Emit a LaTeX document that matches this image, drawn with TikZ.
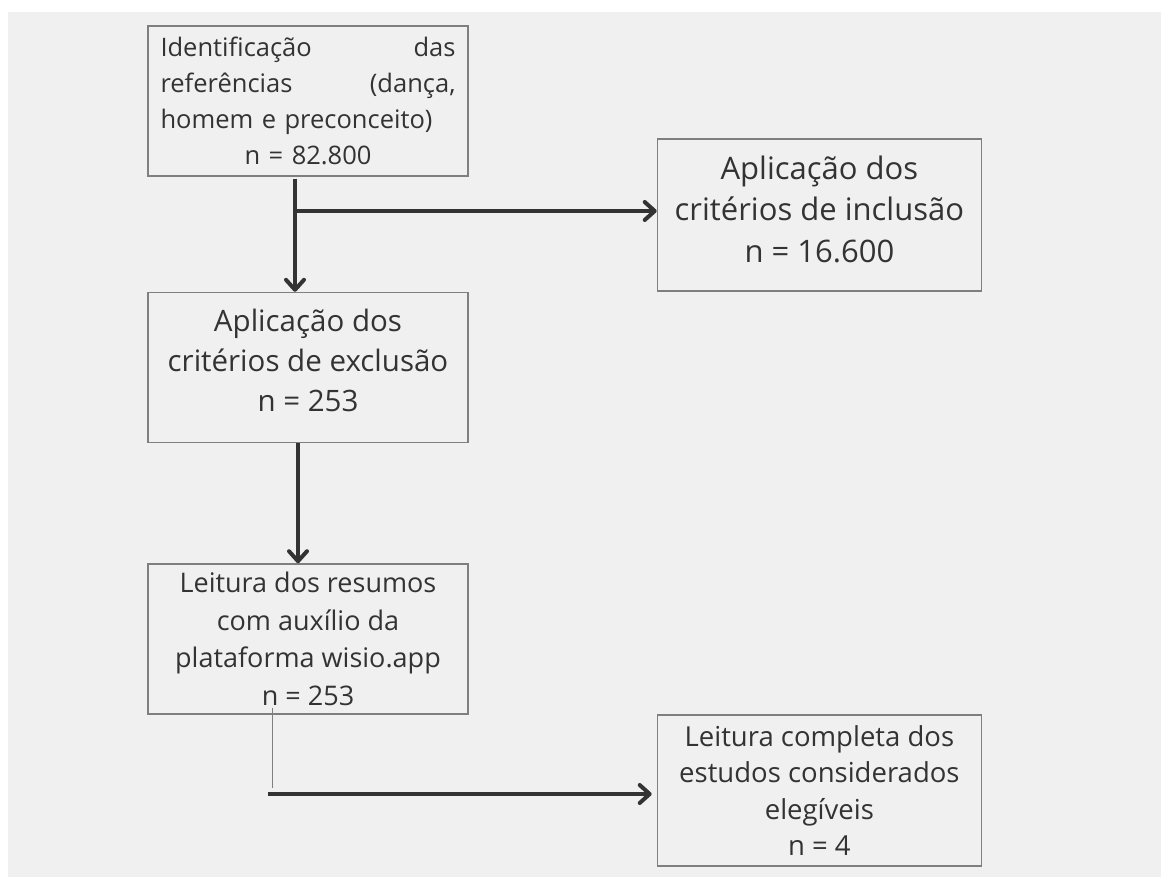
\documentclass[tikz,border=0pt]{standalone}
\usepackage{fontspec}
\setmainfont{Open Sans}
\usetikzlibrary{arrows.meta, positioning}

\definecolor{bggray}{HTML}{F0F0F0}
\definecolor{boxgray}{HTML}{7F7F7F}
\definecolor{inkgray}{HTML}{333333}

\begin{document}
\begin{tikzpicture}[auto,node distance=120pt,
 thick,box node/.style={rectangle,draw=boxgray,line width=1.4pt,text=inkgray,
   minimum width=320pt,minimum height=150pt,inner sep=0pt,align=center,
   font=\fontsize{25}{37}\selectfont},
 flow/.style={draw=inkgray,line width=4pt,
   -{Straight Barb[length=10pt,width=18pt,line cap=round,line join=round]}}]
  \fill[bggray] (8pt,-12pt) rectangle (1161pt,-877pt);
  \useasboundingbox (0,0) rectangle (1161pt,-877pt);

  \node[box node, text width=295pt, align=left, font=\fontsize{25.5}{36}\selectfont] (1) at (308pt,-101pt)
   {Identificação\hfill das\\ referências\hfill (dança,\\ homem e preconceito)\\ \hspace*{\fill}n = 82.800\hspace*{\fill}};
  \node[box node, font=\fontsize{29.5}{40}\selectfont, text depth=14pt] (2) at (308pt,-367.5pt)
   {Aplicação dos\\ critérios de exclusão\\ n = 253};
  \node[box node, minimum width=324pt, minimum height=152pt, font=\fontsize{31}{41.5}\selectfont, text depth=12pt] (3) [right=188pt of 1, yshift=-114pt]
   {Aplicação dos\\ critérios de inclusão\\ n = 16.600};
  \node[box node, font=\fontsize{27}{37.5}\selectfont] (4) [below=of 2]
   {Leitura dos resumos\\ com auxílio da\\ plataforma wisio.app\\ n = 253};
  \node[box node, minimum width=324pt, minimum height=151pt, font=\fontsize{27.5}{36.5}\selectfont] (5) [right=188pt of 4, yshift=-151.5pt]
   {Leitura completa dos\\ estudos considerados\\ elegíveis\\ n = 4};

  \coordinate (b) at (295pt,-211pt);
  \coordinate (c) at (268pt,-794pt);
  \draw[flow] ([yshift=-2pt]1.south -| b) -- (2.north -| b);
  \draw[flow] (b) -- (3.west |- b);
  \draw[flow] ([xshift=-10pt]2.south) -- ([xshift=-10pt]4.north);
  \draw[boxgray, line width=1pt] ([xshift=-36pt,yshift=7pt]4.south) -- ([xshift=4pt,yshift=6pt]c);
  \draw[flow, shorten >=5pt] (c) -- (5.west |- c);
\end{tikzpicture}
\end{document}
